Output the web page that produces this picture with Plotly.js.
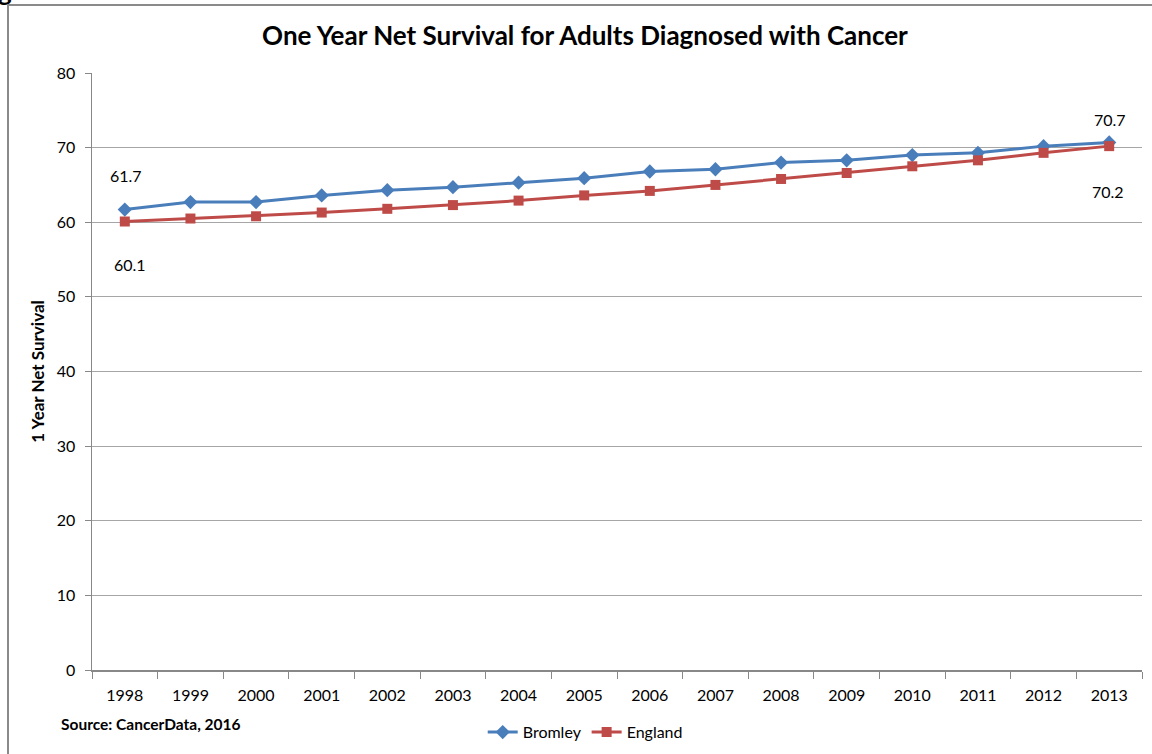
<!DOCTYPE html>
<html>
<head>
<meta charset="utf-8">
<script src="https://cdn.plot.ly/plotly-3.0.1.min.js"></script>
<style>
  html, body { margin: 0; padding: 0; background: #fff; overflow: hidden; }
  #wrap { position: relative; width: 1152px; height: 754px; overflow: hidden; }
  #chart { position: absolute; left: 0; top: 0; width: 1152px; height: 754px; }
  #frame { position: absolute; left: 7px; top: 4px; width: 1200px; height: 800px;
           border: 2px solid #8a8a8a; box-sizing: border-box; pointer-events: none; }
  #fig { position: absolute; left: -2px; top: -24px; font: bold 26px Lato, sans-serif; color: #000; line-height: 30px; }
</style>
</head>
<body>
<div id="wrap">
  <div id="fig">g</div>
  <div id="chart"></div>
  <div id="frame"></div>
</div>
<script>
const years = ["1998","1999","2000","2001","2002","2003","2004","2005","2006","2007","2008","2009","2010","2011","2012","2013"];
const bromley = [61.7, 62.7, 62.7, 63.6, 64.3, 64.7, 65.3, 65.9, 66.8, 67.1, 68.0, 68.3, 69.0, 69.3, 70.2, 70.7];
const england = [60.1, 60.5, 60.8, 61.3, 61.8, 62.3, 62.9, 63.6, 64.2, 65.0, 65.8, 66.6, 67.5, 68.3, 69.3, 70.2];

const font = "Lato, 'Liberation Sans', sans-serif";

const traces = [
  { x: years, y: bromley, name: "Bromley", type: "scatter", mode: "lines+markers",
    line: { color: "#4A7EBB", width: 3 },
    marker: { symbol: "diamond", size: 11, color: "#4A7EBB" } },
  { x: years, y: england, name: "England", type: "scatter", mode: "lines+markers",
    line: { color: "#BE4B48", width: 3 },
    marker: { symbol: "square", size: 10, color: "#BE4B48" } }
];

const last = years.length - 1;
const annotations = [
  { x: 0, y: bromley[0], text: String(bromley[0]), showarrow: false, yshift: 34, xshift: 1 },
  { x: 0, y: england[0], text: String(england[0]), showarrow: false, yshift: -43, xshift: 5 },
  { x: last, y: bromley[last], text: String(bromley[last]), showarrow: false, yshift: 23, xshift: 1 },
  { x: last, y: england[last], text: String(england[last]), showarrow: false, yshift: -45, xshift: -1 },
  { xref: "paper", yref: "paper", x: -0.031, y: -0.09, xanchor: "left", yanchor: "middle",
    text: "<b>Source: CancerData, 2016</b>", showarrow: false, font: { size: 15.5, family: font, color: "#000" } }
].map(a => Object.assign({ font: { size: 16, family: font, color: "#000" } }, a));

const layout = {
  width: 1152, height: 754,
  margin: { l: 92, r: 10, t: 73, b: 84 },
  paper_bgcolor: "rgba(0,0,0,0)", plot_bgcolor: "#fff",
  font: { family: font, size: 16, color: "#000" },
  title: { text: "<b>One Year Net Survival for Adults Diagnosed with Cancer</b>",
           font: { size: 26, family: font, color: "#000" }, x: 0.4695, xanchor: "center", xref: "paper", y: 0.953, yanchor: "middle" },
  xaxis: { type: "category", range: [-0.5, last + 0.5], autorange: false, automargin: false,
           tickson: "boundaries", ticks: "outside", ticklen: 7, tickcolor: "#888",
           showgrid: false, showline: true, linecolor: "#888", linewidth: 1.5, tickangle: 0,
           ticklabelstandoff: 10,
           tickfont: { size: 16, family: font }, zeroline: false, fixedrange: true },
  yaxis: { range: [0, 80], autorange: false, automargin: false, dtick: 10, ticks: "outside", ticklen: 6, tickcolor: "#888",
           showgrid: true, gridcolor: "#a6a6a6", gridwidth: 1, showline: true, linecolor: "#888", linewidth: 1.5,
           ticklabelstandoff: 6,
           zeroline: false, tickfont: { size: 16, family: font },
           title: { text: "<b>1 Year Net Survival</b>", font: { size: 17, family: font }, standoff: 8 } },
  legend: { orientation: "h", xref: "container", yref: "container", x: 0.508, xanchor: "center", y: 0.029, yanchor: "middle",
            font: { size: 16, family: font }, bgcolor: "rgba(0,0,0,0)" },
  showlegend: true,
  annotations: annotations
};

Plotly.newPlot("chart", traces, layout, { displayModeBar: false, staticPlot: true });
</script>
</body>
</html>
